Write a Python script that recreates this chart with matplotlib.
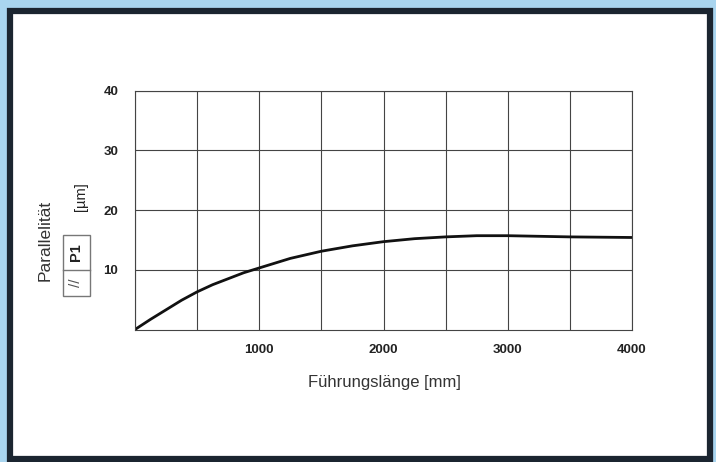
import matplotlib.pyplot as plt
from matplotlib.patches import Rectangle

# Parallelitaet P1 ueber Fuehrungslaenge
laenge = [0, 125, 250, 375, 500, 625, 750, 875, 1000, 1250, 1500, 1750,
          2000, 2250, 2500, 2750, 3000, 3500, 4000]
p1 = [0, 1.7, 3.3, 4.9, 6.3, 7.5, 8.5, 9.5, 10.3, 11.9, 13.1, 14.0,
      14.7, 15.2, 15.5, 15.7, 15.7, 15.5, 15.4]

x_grid = list(range(0, 4001, 500))
x_labels = ['', '', '1000', '', '2000', '', '3000', '', '4000']
y_ticks = [10, 20, 30, 40]

plt.rcParams['font.family'] = ['Liberation Sans', 'DejaVu Sans']

fig = plt.figure(figsize=(7.16, 4.62), dpi=100, facecolor='#a9d5ef')

# dark frame with white card
fig.patches.append(Rectangle((10 / 716, 3 / 462), 699.5 / 716, 448.5 / 462,
                             transform=fig.transFigure, facecolor='white',
                             edgecolor='#1b2530', linewidth=4.5, zorder=0))

ax = fig.add_axes([135 / 716, (462 - 329.5) / 462, 497 / 716, 239 / 462])
ax.set_zorder(2)
ax.set_facecolor('white')
ax.plot(laenge, p1, color='#111111', lw=2.0, solid_capstyle='butt',
        solid_joinstyle='round')

ax.set_xlim(0, 4000)
ax.set_ylim(0, 40)
ax.set_xticks(x_grid)
ax.set_xticklabels(x_labels)
ax.set_yticks(y_ticks)
ax.tick_params(length=0, labelsize=9.5)
ax.tick_params(axis='x', pad=10.5)
ax.tick_params(axis='y', pad=12)
for lab in ax.get_xticklabels() + ax.get_yticklabels():
    lab.set_fontweight('bold')
    lab.set_color('#222222')
ax.grid(color='#444444', lw=0.8)
for s in ax.spines.values():
    s.set_color('#444444')
    s.set_linewidth(0.8)

fig.text(384 / 716, 1 - 383 / 462, 'Führungslänge [mm]', ha='center', va='center',
         fontsize=12, color='#333333', zorder=3)
fig.text(45 / 716, 1 - 240 / 462, 'Parallelität', rotation=90, ha='center',
         va='center', fontsize=12.5, color='#333333', zorder=3)
fig.text(81 / 716, 1 - 197 / 462, '[µm]', rotation=90, ha='center', va='center',
         fontsize=10.5, color='#222222', zorder=3)

# symbol box: P1 over //
fig.patches.append(Rectangle((62.5 / 716, 1 - 296 / 462), 27.5 / 716, 61 / 462,
                             transform=fig.transFigure, facecolor='none',
                             edgecolor='#777777', lw=1.0, zorder=3))
fig.lines.append(plt.Line2D([62.5 / 716, 90 / 716], [1 - 270 / 462, 1 - 270 / 462],
                            transform=fig.transFigure, color='#777777', lw=1.0, zorder=3))
fig.text(76 / 716, 1 - 252 / 462, 'P1', rotation=90, ha='center', va='center',
         fontsize=10.5, fontweight='bold', color='#222222', zorder=3)
fig.text(76 / 716, 1 - 283 / 462, '//', rotation=90, ha='center', va='center',
         fontsize=11, color='#555555', zorder=3)

fig.savefig('out.png', dpi=100, facecolor=fig.get_facecolor())
